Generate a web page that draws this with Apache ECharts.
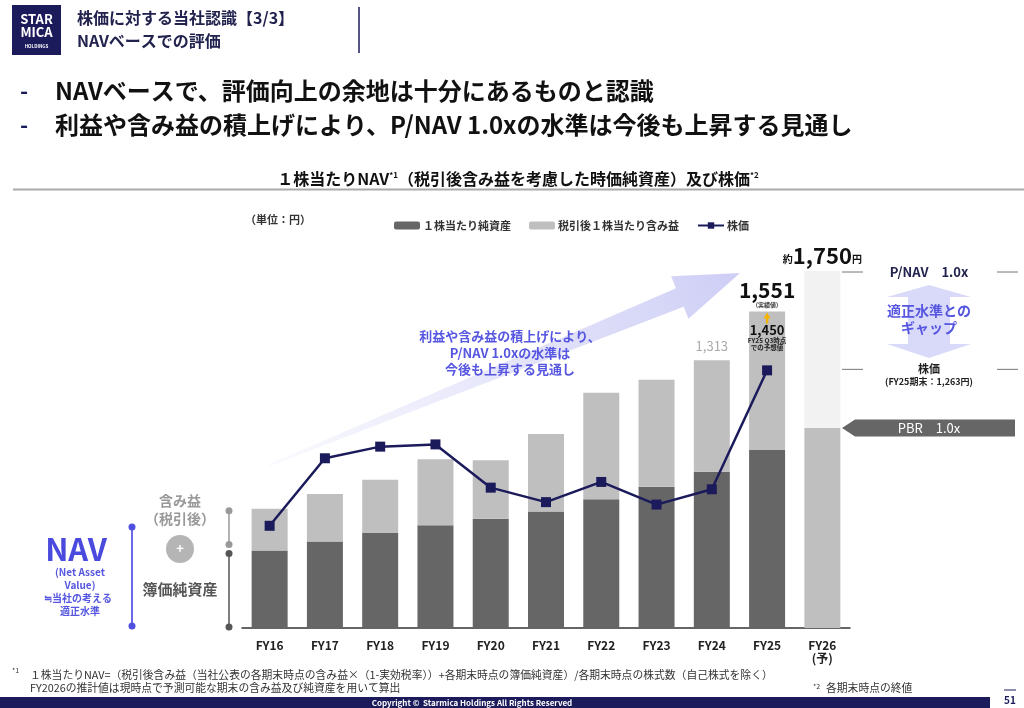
<!DOCTYPE html>
<html>
<head>
<meta charset="utf-8">
<script src="https://cdn.jsdelivr.net/npm/echarts@6/dist/echarts.min.js"></script>
<style>
  html, body { margin: 0; padding: 0; background: #fff; }
  #chart { width: 1024px; height: 708px; }
</style>
</head>
<body>
<div id="chart"></div>
<script>
// values (yen per share)
const years = ['FY16', 'FY17', 'FY18', 'FY19', 'FY20', 'FY21', 'FY22', 'FY23', 'FY24', 'FY25', 'FY26\n(予)'];
const bookValue = [380, 424, 466, 504, 535, 571, 631, 692, 766, 873];
const unrealized = [204, 233, 261, 323, 287, 380, 522, 525, 547, 678];
const stockPrice = [501, 832, 889, 900, 688, 617, 716, 605, 680, 1263];
const fy26Base = 980;
const fy26Total = 1750;
const fy25Forecast = 1450;

const FONT = '"Noto Sans CJK JP", "Noto Sans", sans-serif';
const NAVY = '#1b1a5b';
const PURPLE = '#5656e0';

const fmt = v => String(v).replace(/\B(?=(\d{3})+(?!\d))/g, ',');

const chart = echarts.init(document.getElementById('chart'));

const last = years.length - 1;
const pad = arr => arr.concat(new Array(years.length - arr.length).fill('-'));

const unrealizedData = pad(unrealized).map((v, i) => {
  if (i === 8) {
    return {
      value: v,
      label: {
        show: true, position: 'top', distance: 8,
        formatter: fmt(bookValue[i] + unrealized[i]),
        color: '#aaa', fontSize: 13, fontFamily: FONT
      }
    };
  }
  if (i === 9) {
    return {
      value: v,
      label: {
        show: true, position: 'top', distance: 3,
        formatter: '{b|' + fmt(bookValue[i] + unrealized[i]) + '}\n{s|(実績値)}',
        rich: {
          b: { fontSize: 21, fontWeight: 'bold', color: '#111', fontFamily: FONT, lineHeight: 22 },
          s: { fontSize: 6, fontWeight: 'bold', color: '#333', fontFamily: FONT, lineHeight: 8 }
        }
      }
    };
  }
  return v;
});

const baseData = years.map((y, i) => (i === last ? fy26Base : '-'));
const topData = years.map((y, i) => {
  if (i !== last) return '-';
  return {
    value: fy26Total - fy26Base,
    label: {
      show: true, position: 'top', distance: 4,
      formatter: '{s|約}{b|' + fmt(fy26Total) + '}{s|円}',
      rich: {
        b: { fontSize: 22, fontWeight: 'bold', color: '#111', fontFamily: FONT },
        s: { fontSize: 10, fontWeight: 'bold', color: '#111', fontFamily: FONT, padding: [6, 0, 0, 0] }
      }
    }
  };
});

chart.setOption({
  animation: false,
  textStyle: { fontFamily: FONT },
  grid: { left: 242, right: 174, top: 220, height: 408 },
  legend: {
    left: 389, top: 215,
    itemWidth: 26, itemHeight: 8, itemGap: 18,
    data: ['１株当たり純資産', '税引後１株当たり含み益', '株価'],
    textStyle: { fontSize: 11, fontWeight: 'bold', color: '#333', fontFamily: FONT, padding: [0, 0, 0, -2] }
  },
  xAxis: {
    type: 'category',
    data: years,
    axisLine: { lineStyle: { color: '#333', width: 1.5 } },
    axisTick: { show: false },
    axisLabel: { color: '#222', fontSize: 12, fontWeight: 'bold', margin: 11, lineHeight: 13, fontFamily: FONT }
  },
  yAxis: { type: 'value', min: 0, max: 2000, show: false, splitLine: { show: false } },
  series: [
    { name: '１株当たり純資産', type: 'bar', stack: 'nav', barWidth: 36, data: pad(bookValue), itemStyle: { color: '#666666' } },
    { name: '税引後１株当たり含み益', type: 'bar', stack: 'nav', barWidth: 36, data: unrealizedData, itemStyle: { color: '#bfbfbf' } },
    { name: 'FY26簿価', type: 'bar', stack: 'nav', barWidth: 36, data: baseData, itemStyle: { color: '#bfbfbf' } },
    { name: 'FY26上乗せ', type: 'bar', stack: 'nav', barWidth: 36, data: topData, itemStyle: { color: '#f2f2f2' } },
    {
      name: '株価', type: 'line', data: pad(stockPrice), z: 5,
      symbol: 'rect', symbolSize: 10,
      lineStyle: { color: NAVY, width: 2.5 },
      itemStyle: { color: NAVY }
    }
  ]
});

// annotation layer, anchored to the chart's own scale where it belongs to data
const px = (i, v) => chart.convertToPixel({ xAxisIndex: 0, yAxisIndex: 0 }, [i, v]);

const txt = (x, y, text, size, color, opts) => Object.assign({
  type: 'text', x: x, y: y, z: 100,
  style: Object.assign({
    text: text, fontSize: size, fill: color, fontFamily: FONT, fontWeight: 'bold',
    align: 'center', verticalAlign: 'middle'
  }, opts || {})
});

const g = [];

// header
g.push({ type: 'rect', shape: { x: 12, y: 5, width: 49, height: 50 }, style: { fill: NAVY } });
g.push(txt(36.5, 19, 'STAR', 13, '#fff'));
g.push(txt(36.5, 32, 'MICA', 13, '#fff'));
g.push(txt(36.5, 46, 'HOLDINGS', 4.5, '#fff'));
g.push(txt(77, 18, '株価に対する当社認識【3/3】', 16, '#22224f', { align: 'left' }));
g.push(txt(77, 41, 'NAVベースでの評価', 16, '#22224f', { align: 'left' }));
g.push({ type: 'line', shape: { x1: 359, y1: 7, x2: 359, y2: 53 }, style: { stroke: NAVY, lineWidth: 1.5 } });

// bullets
g.push(txt(20, 91, '-', 22, NAVY, { align: 'left' }));
g.push(txt(55, 91, 'NAVベースで、評価向上の余地は十分にあるものと認識', 24, '#111', { align: 'left' }));
g.push(txt(20, 125, '-', 22, NAVY, { align: 'left' }));
g.push(txt(55, 125, '利益や含み益の積上げにより、P/NAV 1.0xの水準は今後も上昇する見通し', 24, '#111', { align: 'left' }));

// chart title
g.push({
  type: 'text', x: 518, y: 179, z: 100,
  style: {
    text: '１株当たりNAV{sup|*1}（税引後含み益を考慮した時価純資産）及び株価{sup|*2}',
    fontSize: 16, fontWeight: 'bold', fill: '#111', fontFamily: FONT, align: 'center', verticalAlign: 'middle',
    rich: { sup: { fontSize: 8, fontWeight: 'bold', fill: '#111', fontFamily: FONT, padding: [0, 0, 8, 0] } }
  }
});
g.push({ type: 'line', shape: { x1: 13, y1: 189.5, x2: 1024, y2: 189.5 }, style: { stroke: '#aaa', lineWidth: 2 } });
g.push(txt(245, 220, '（単位：円）', 11, '#333', { align: 'left' }));

// rising arrow
const tail = [270, 465], tip = [740, 273];
const dx = tip[0] - tail[0], dy = tip[1] - tail[1];
const len = Math.sqrt(dx * dx + dy * dy);
const ux = dx / len, uy = dy / len, nx = -uy, ny = ux;
const hb = [tip[0] - 65 * ux, tip[1] - 65 * uy];
const pt = (c, k) => [c[0] + k * nx, c[1] + k * ny];
g.push({
  type: 'polygon', z: 0,
  shape: { points: [pt(tail, -1), pt(hb, -10), pt(hb, -23), tip, pt(hb, 23), pt(hb, 10), pt(tail, 1)] },
  style: {
    fill: new echarts.graphic.LinearGradient(tail[0], tail[1], tip[0], tip[1], [
      { offset: 0, color: 'rgba(215,215,248,0.15)' },
      { offset: 1, color: 'rgba(206,206,246,1)' }
    ], true)
  }
});
g.push(txt(510, 336, '利益や含み益の積上げにより、', 13, PURPLE));
g.push(txt(510, 353, 'P/NAV 1.0xの水準は', 13, PURPLE));
g.push(txt(510, 369, '今後も上昇する見通し', 13, PURPLE));

// FY25 forecast note inside bar
const p25 = px(9, bookValue[9] + unrealized[9]);
g.push({
  type: 'polygon', z: 100,
  shape: { points: [[p25[0], p25[1] + 1], [p25[0] - 3.5, p25[1] + 7], [p25[0] - 1.2, p25[1] + 7], [p25[0] - 1.2, p25[1] + 12], [p25[0] + 1.2, p25[1] + 12], [p25[0] + 1.2, p25[1] + 7], [p25[0] + 3.5, p25[1] + 7]] },
  style: { fill: '#f5b400' }
});
g.push(txt(p25[0], p25[1] + 18, fmt(fy25Forecast), 13, '#111'));
g.push(txt(p25[0], p25[1] + 28.5, 'FY25 Q3時点', 6.5, '#222'));
g.push(txt(p25[0], p25[1] + 36, 'での予想値', 6.5, '#222'));

// right side: valuation gap
const pNav = px(last, fy26Total);
const pPrice = px(9, stockPrice[9]);
const rx = 929;
[pNav[1] + 1, pPrice[1] - 1].forEach(y => {
  g.push({ type: 'line', shape: { x1: 842, y1: y, x2: 863, y2: y }, style: { stroke: '#777', lineWidth: 1 } });
  g.push({ type: 'line', shape: { x1: 997, y1: y, x2: 1018, y2: y }, style: { stroke: '#777', lineWidth: 1 } });
});
g.push(txt(rx, pNav[1] + 1, 'P/NAV　1.0x', 13, '#22224f'));
g.push({
  type: 'polygon', z: 1,
  shape: { points: [[rx, 285], [rx + 42, 297], [rx + 21, 297], [rx + 21, 344], [rx + 42, 344], [rx, 358], [rx - 42, 344], [rx - 21, 344], [rx - 21, 297], [rx - 42, 297]] },
  style: { fill: '#d9d9f9' }
});
g.push(txt(rx, 311, '適正水準との', 14, PURPLE));
g.push(txt(rx, 328, 'ギャップ', 14, PURPLE));
g.push(txt(rx, pPrice[1] - 2, '株価', 11, '#222'));
g.push(txt(rx, pPrice[1] + 11, '(FY25期末：' + fmt(stockPrice[9]) + '円)', 9, '#222'));

const pBase = px(last, fy26Base);
g.push({
  type: 'polygon', z: 1,
  shape: { points: [[842, pBase[1]], [855, pBase[1] - 8.5], [1015, pBase[1] - 8.5], [1015, pBase[1] + 8.5], [855, pBase[1] + 8.5]] },
  style: { fill: '#666' }
});
g.push(txt(rx, pBase[1], 'PBR　1.0x', 13, '#fff', { fontWeight: 'normal' }));

// left side: NAV breakdown, aligned with FY16 bar
const pTop = px(0, bookValue[0] + unrealized[0]);
const pMid = px(0, bookValue[0]);
const pZero = px(0, 0);
const bx = 229;
const bracket = (y1, y2, color) => {
  g.push({ type: 'line', shape: { x1: bx, y1: y1, x2: bx, y2: y2 }, style: { stroke: color, lineWidth: 1.5 } });
  g.push({ type: 'circle', shape: { cx: bx, cy: y1, r: 3.5 }, style: { fill: color } });
  g.push({ type: 'circle', shape: { cx: bx, cy: y2, r: 3.5 }, style: { fill: color } });
};
bracket(pTop[1] + 2, pMid[1] - 6, '#999');
bracket(pMid[1] + 3, pZero[1] - 1, '#555');

g.push(txt(180, 501, '含み益', 14, '#999'));
g.push(txt(180, 519, '（税引後）', 14, '#999'));
g.push({ type: 'circle', shape: { cx: 180, cy: 549, r: 14 }, style: { fill: '#b5b5b5' } });
g.push(txt(180, 548, '+', 13, '#fff'));
g.push(txt(180, 589, '簿価純資産', 15, '#555'));

g.push({ type: 'line', shape: { x1: 132, y1: 527, x2: 132, y2: 626 }, style: { stroke: '#6a6ae8', lineWidth: 2 } });
g.push({ type: 'circle', shape: { cx: 132, cy: 527, r: 3.5 }, style: { fill: '#5050e0' } });
g.push({ type: 'circle', shape: { cx: 132, cy: 626, r: 3.5 }, style: { fill: '#5050e0' } });
g.push(txt(76, 549, 'NAV', 31, '#4a4ade'));
g.push(txt(80, 572, '(Net Asset', 10, PURPLE));
g.push(txt(80, 585, 'Value)', 10, PURPLE));
g.push(txt(78, 598, '≒当社の考える', 10, PURPLE));
g.push(txt(80, 611, '適正水準', 10, PURPLE));

// footnotes
g.push(txt(12, 670, '*1', 7, '#333', { align: 'left', fontWeight: 'normal' }));
g.push(txt(30, 675, '１株当たりNAV=（税引後含み益（当社公表の各期末時点の含み益×（1-実効税率））+各期末時点の簿価純資産）/各期末時点の株式数（自己株式を除く）', 10.8, '#333', { align: 'left', fontWeight: 'normal' }));
g.push(txt(30, 688, 'FY2026の推計値は現時点で予測可能な期末の含み益及び純資産を用いて算出', 10.8, '#333', { align: 'left', fontWeight: 'normal' }));
g.push(txt(813, 686, '*2', 7, '#333', { align: 'left', fontWeight: 'normal' }));
g.push(txt(826, 688, '各期末時点の終値', 10.8, '#333', { align: 'left', fontWeight: 'normal' }));

// footer
g.push({ type: 'rect', shape: { x: 0, y: 697, width: 990, height: 11 }, style: { fill: NAVY } });
g.push(txt(472, 702.5, 'Copyright ©  Starmica Holdings All Rights Reserved', 8, '#fff'));
g.push({ type: 'line', shape: { x1: 1004, y1: 690, x2: 1016, y2: 690 }, style: { stroke: NAVY, lineWidth: 1 } });
g.push(txt(1010, 700, '51', 10, NAVY));

chart.setOption({ graphic: g });
window.addEventListener('resize', () => chart.resize());
</script>
</body>
</html>
